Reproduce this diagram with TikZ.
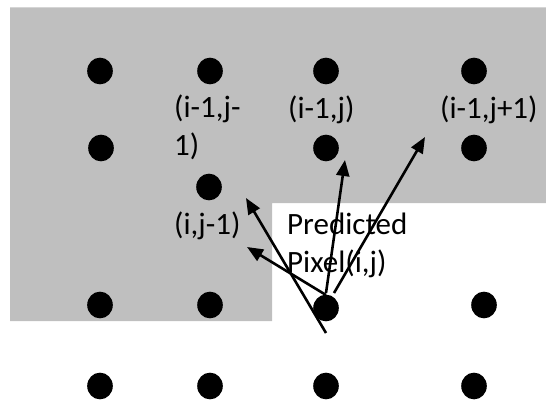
\documentclass[tikz,border=0pt]{standalone}
\usepackage{fontspec}
\setmainfont{Carlito}
\usetikzlibrary{shapes.geometric,arrows.meta}
\definecolor{graybg}{RGB}{191,191,191}
\begin{document}
\begin{tikzpicture}[x=1pt,y=-1pt,
  dot/.style={ellipse,fill=black,draw=none,inner sep=0pt,minimum width=25.6pt,minimum height=26.7pt},
  lbl/.style={anchor=base west,inner sep=0pt,font=\fontsize{31}{38}\selectfont},
  arr/.style={line width=2.6pt,-{Triangle[length=16pt,width=13pt]}}]
\useasboundingbox (0,0) rectangle (546,404);
% shaded known region
\fill[graybg] (10,7.5) -- (546,7.5) -- (546,203) -- (272,203) -- (272,321) -- (10,321) -- cycle;
% dots
\node[dot] (r1c1) at (100,71) {};
\node[dot] (r1c2) at (210,71) {};
\node[dot] (r1c3) at (326,71) {};
\node[dot] (r1c4) at (474,71) {};
\node[dot] (r2c1) at (101,148) {};
\node[dot] (r2c3) at (326,148) {};
\node[dot] (r2c4) at (474,148) {};
\node[dot] (left) at (209,187) {};
\node[dot] (r3c1) at (100,305) {};
\node[dot] (r3c2) at (210,305) {};
\node[dot] (pred) at (326,308) {};
\node[dot] (r3c4) at (484,305) {};
\node[dot] (r4c1) at (100,386) {};
\node[dot] (r4c2) at (210,386) {};
\node[dot] (r4c3) at (326,386) {};
\node[dot] (r4c4) at (474,386) {};
% labels (multi-line nodes anchored at baseline of last line)
\node[lbl,align=left] (lab1) at (174,155) {(i-1,j-\\1)};
\node[lbl] (lab2) at (288,118) {(i-1,j)};
\node[lbl] (lab3) at (440,118) {(i-1,j+1)};
\node[lbl] (lab4) at (174,234) {(i,j-1)};
\node[lbl,align=left] (lab5) at (287,272) {Predicted\\Pixel(i,j)};
% arrow ends
\coordinate (s1) at (326,333);
\coordinate (e1) at (246,198);
\coordinate (s2) at (326,295);
\coordinate (e2) at (247,247);
\coordinate (s3) at (326,293);
\coordinate (e3) at (345,160);
\coordinate (s4) at (334,293);
\coordinate (e4) at (425,137);
\draw[arr] (s1) -- (e1);
\draw[arr] (s2) -- (e2);
\draw[arr] (s3) -- (e3);
\draw[arr] (s4) -- (e4);
\end{tikzpicture}
\end{document}
